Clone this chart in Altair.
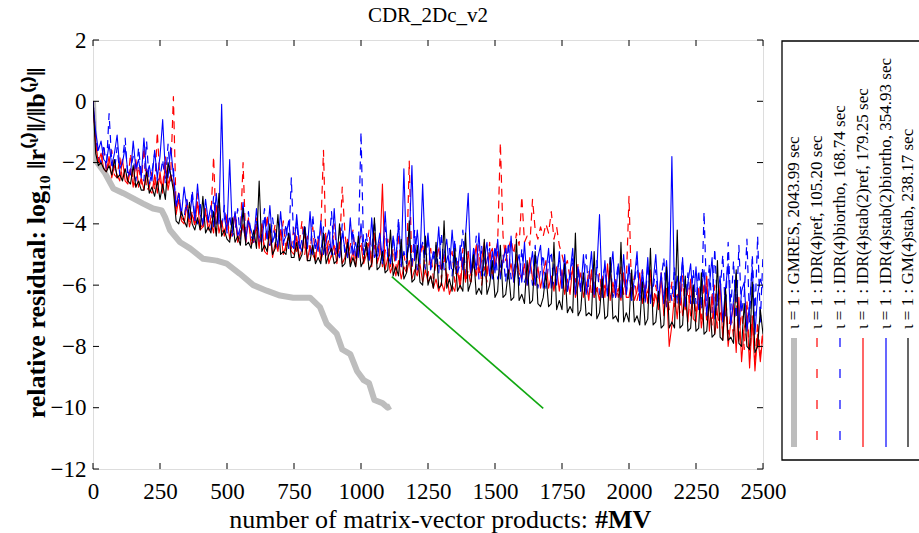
import altair as alt
import pandas as pd

# ---------------- data ----------------
MV = list(range(0, 2501, 10))

gm4_stab = [
    0.0, -1.7, -2.1, -2.0, -2.2, -2.3, -2.1, -2.4, -1.9, -2.5, -2.4, -2.6, -2.2, -2.6, -2.7, -2.1, -2.8, -2.6, -2.9, -2.9, -2.3, -3.0, -2.8, -3.1, -2.6,
    -3.2, -2.7, -3.2, -2.0, -2.4, -2.9, -3.9, -4.0, -3.6, -3.9, -4.1, -3.3, -4.0, -4.2, -3.8, -4.2, -3.1, -4.3, -4.1, -4.3, -3.6, -4.4, -3.0, -4.4, -4.2,
    -4.5, -4.6, -3.8, -4.6, -4.4, -4.7, -3.5, -4.7, -4.6, -4.8, -4.2, -4.8, -2.6, -4.9, -4.7, -4.9, -4.0, -5.0, -4.8, -3.7, -5.0, -4.9, -5.0, -4.3, -5.1,
    -5.1, -4.6, -5.2, -5.0, -4.1, -5.2, -5.2, -4.7, -5.3, -5.1, -5.3, -4.3, -5.3, -5.0, -4.8, -5.3, -5.2, -4.0, -5.4, -5.3, -4.6, -5.4, -5.1, -5.4, -4.4,
    -5.4, -5.2, -4.6, -5.5, -5.3, -3.8, -5.5, -5.4, -4.9, -5.6, -5.5, -4.2, -5.7, -5.4, -5.7, -4.5, -5.8, -5.6, -3.9, -5.9, -5.8, -4.7, -5.9, -6.0, -4.4,
    -6.0, -5.7, -6.1, -4.6, -6.1, -6.0, -3.9, -6.1, -5.8, -6.2, -4.8, -6.2, -6.0, -6.2, -4.3, -6.2, -5.9, -5.0, -6.3, -6.1, -6.3, -4.5, -6.3, -6.0, -5.2,
    -6.4, -6.2, -4.7, -6.4, -6.3, -5.5, -6.5, -6.4, -4.5, -6.5, -6.3, -6.6, -5.2, -6.6, -6.5, -4.9, -6.6, -6.7, -6.4, -5.6, -6.7, -6.6, -4.6, -6.8, -6.5,
    -6.8, -5.3, -6.9, -6.7, -6.9, -4.3, -7.0, -6.8, -5.6, -7.0, -6.9, -7.0, -4.9, -7.1, -6.9, -5.8, -7.1, -7.0, -5.1, -7.1, -7.0, -7.2, -4.6, -7.2, -6.9,
    -7.2, -5.5, -7.2, -7.0, -7.3, -5.9, -7.3, -7.1, -4.8, -7.3, -7.2, -6.2, -7.4, -7.3, -5.4, -7.4, -7.2, -7.4, -4.2, -7.4, -7.3, -5.7, -7.5, -7.4, -6.0,
    -7.5, -7.4, -5.6, -7.6, -7.5, -6.4, -7.7, -7.6, -5.2, -7.7, -7.8, -6.1, -7.8, -7.7, -7.9, -5.5, -7.9, -8.0, -6.6, -8.0, -8.1, -5.9, -8.2, -8.0, -6.8,
    -7.6,
]

idr_stab_biortho = [
    0.0, -1.0, -1.6, -1.3, -1.9, -2.0, -1.4, -2.1, -1.7, -1.1, -2.2, -2.0, -1.5, -2.3, -2.4, -1.3, -2.2, -1.9, -2.5, -1.2, -2.4, -2.1, -2.6, -1.6, -2.5,
    -1.8, -0.6, -2.3, -2.5, -1.5, -2.4, -3.4, -3.0, -3.7, -2.8, -3.5, -3.8, -3.1, -3.9, -2.7, -3.7, -4.0, -3.2, -3.9, -3.4, -4.1, -3.0, -4.0, -0.1, -3.8,
    -4.2, -1.9, -4.3, -3.6, -4.4, -4.1, -3.3, -4.5, -3.9, -4.2, -4.5, -3.5, -4.4, -4.6, -3.8, -4.5, -3.4, -4.6, -4.3, -4.7, -3.6, -4.6, -4.4, -3.9, -4.7,
    -4.8, -3.7, -4.7, -4.9, -4.1, -4.8, -3.6, -5.0, -4.5, -4.9, -3.9, -5.0, -4.6, -4.2, -5.0, -3.5, -4.9, -5.1, -4.3, -4.8, -5.1, -3.8, -5.0, -4.6, -5.1,
    -4.0, -5.0, -4.7, -5.2, -3.8, -5.1, -4.9, -4.3, -5.2, -3.6, -5.0, -5.3, -4.4, -5.2, -4.0, -5.3, -2.2, -5.1, -4.6, -2.1, -5.2, -4.2, -5.3, -2.7, -5.0,
    -4.3, -5.4, -4.9, -5.3, -4.1, -5.5, -5.0, -4.5, -5.5, -4.2, -5.4, -5.6, -4.7, -5.5, -4.4, -3.0, -5.6, -4.8, -5.5, -4.3, -5.7, -5.2, -4.6, -5.7, -4.9,
    -5.6, -4.5, -5.8, -5.2, -4.8, -5.8, -4.4, -5.9, -5.4, -5.0, -5.9, -4.6, -6.0, -5.5, -4.9, -6.0, -5.1, -4.7, -6.1, -5.6, -4.8, -6.1, -5.3, -6.0, -4.9,
    -6.1, -5.0, -6.2, -5.6, -4.8, -6.3, -5.4, -6.2, -5.0, -6.3, -5.8, -4.9, -6.3, -5.5, -3.7, -6.4, -5.2, -6.3, -5.7, -4.9, -6.4, -5.3, -6.4, -5.0, -6.3,
    -5.3, -6.4, -5.8, -4.9, -6.5, -5.5, -6.4, -5.1, -6.6, -5.9, -5.0, -6.5, -5.6, -6.6, -5.2, -6.5, -1.8, -6.4, -5.7, -6.6, -5.1, -6.7, -5.9, -5.3, -6.6,
    -5.4, -6.8, -6.2, -5.5, -7.0, -6.0, -5.1, -7.1, -6.4, -5.7, -7.2, -6.1, -5.3, -7.3, -6.5, -5.6, -7.4, -6.2, -5.9, -7.5, -6.6, -5.4, -7.6, -6.3, -5.8,
    -6.1,
]

idr_biortho = [
    0.0, -1.2, -1.8, -2.0, -1.4, -2.2, -0.4, -2.0, -2.3, -1.5, -2.4, -1.9, -1.2, -2.5, -2.2, -1.8, -2.6, -1.5, -2.4, -2.6, -1.3, -2.7, -2.3, -1.7, -2.6,
    -2.5, -1.9, -2.7, -1.4, -2.6, -2.2, -3.5, -3.0, -3.7, -3.8, -3.2, -3.9, -2.9, -3.8, -4.0, -3.3, -4.1, -3.6, -3.9, -4.2, -3.1, -4.1, -3.7, -4.2, -3.4,
    -4.3, -3.7, -4.4, -4.2, -3.5, -4.5, -4.0, -4.6, -3.6, -4.4, -4.6, -3.9, -4.7, -4.3, -3.5, -4.6, -4.7, -3.8, -4.5, -4.8, -4.1, -4.7, -4.0, -4.8, -2.5,
    -4.8, -3.9, -4.9, -4.5, -4.0, -4.9, -5.0, -3.7, -4.8, -4.4, -5.0, -4.1, -5.1, -4.8, -3.6, -5.0, -4.6, -5.1, -4.0, -5.0, -4.7, -5.2, -4.2, -5.1, -4.9,
    -1.0, -5.0, -4.3, -5.2, -4.8, -3.9, -5.2, -4.6, -5.3, -4.1, -5.1, -5.3, -4.4, -5.2, -3.8, -5.4, -4.9, -5.3, -4.5, -5.4, -4.2, -5.5, -5.0, -4.6, -5.5,
    -4.4, -5.5, -5.1, -4.7, -5.6, -4.3, -5.5, -5.2, -4.8, -5.7, -4.5, -5.6, -5.3, -4.2, -5.7, -4.9, -5.6, -5.4, -4.4, -5.8, -4.7, -5.7, -5.2, -4.8, -5.8,
    -4.7, -5.8, -5.4, -5.0, -5.9, -4.6, -5.8, -5.5, -5.1, -6.0, -4.8, -5.9, -5.6, -5.2, -6.0, -4.7, -6.1, -5.5, -5.0, -6.1, -5.3, -4.9, -6.1, -5.6, -5.2,
    -6.1, -5.3, -6.2, -5.8, -5.1, -6.3, -5.5, -6.2, -5.9, -5.0, -6.3, -5.6, -6.4, -5.2, -6.3, -5.8, -5.4, -6.4, -5.1, -6.4, -5.9, -5.3, -6.4, -5.7, -6.3,
    -5.4, -6.5, -6.0, -5.2, -6.5, -5.7, -6.6, -5.3, -6.4, -6.1, -5.5, -6.6, -5.8, -5.1, -6.7, -5.9, -6.5, -5.4, -6.6, -6.0, -5.2, -6.7, -5.6, -6.6, -5.5,
    -6.6, -5.5, -6.8, -3.6, -6.5, -5.3, -6.9, -4.8, -6.7, -6.2, -5.0, -7.0, -4.6, -6.8, -5.2, -7.1, -4.7, -6.9, -6.3, -4.5, -7.2, -5.0, -7.0, -4.4, -7.2,
    -5.0,
]

idr_ref = [
    0.0, -1.3, -1.9, -2.1, -1.5, -2.3, -2.0, -1.6, -2.4, -2.5, -1.8, -2.6, -2.2, -2.7, -1.7, -2.6, -2.8, -2.1, -2.7, -1.5, -2.9, -2.8, -2.3, -2.9, -1.0,
    -2.6, -2.8, -1.8, -2.7, -2.4, 0.15, -3.5, -3.0, -3.8, -3.9, -3.2, -4.0, -3.6, -4.1, -3.0, -4.0, -4.2, -3.5, -4.1, -3.8, -1.8, -4.3, -3.4, -4.2, -4.3,
    -3.7, -4.4, -4.1, -3.6, -4.5, -4.3, -2.0, -4.6, -3.9, -4.5, -4.6, -3.8, -4.7, -4.2, -4.8, -3.7, -4.7, -4.5, -4.0, -4.8, -4.6, -3.9, -4.9, -4.3, -4.8,
    -4.1, -4.9, -4.6, -3.9, -5.0, -4.4, -4.9, -4.1, -5.1, -4.7, -4.2, -1.6, -5.0, -4.5, -5.1, -4.0, -5.0, -4.8, -2.8, -4.3, -5.1, -4.7, -4.2, -5.2, -4.6,
    -4.4, -5.2, -4.9, -4.2, -5.3, -4.7, -5.2, -4.4, -5.4, -4.9, -4.5, -5.4, -4.8, -5.5, -4.3, -5.4, -5.0, -5.5, -1.95, -5.5, -4.7, -5.6, -5.1, -4.6, -5.6,
    -5.7, -4.8, -5.8, -5.3, -4.7, -5.8, -5.0, -5.9, -5.4, -4.9, -5.9, -5.2, -6.0, -4.8, -5.9, -5.5, -6.0, -5.0, -5.8, -4.7, -6.0, -5.4, -5.9, -4.6, -5.8,
    -5.0, -4.6, -1.35, -4.4, -5.2, -4.8, -4.5, -5.0, -4.3, -4.7, -3.1, -4.6, -4.4, -4.7, -3.2, -4.2, -4.5, -4.1, -4.4, -4.0, -4.3, -3.6, -4.5, -4.1, -4.7,
    -5.0, -5.4, -5.2, -5.8, -5.5, -5.9, -5.3, -6.1, -5.7, -6.2, -5.5, -6.3, -5.9, -6.2, -5.6, -6.4, -6.0, -6.3, -5.5, -6.4, -5.8, -6.4, -5.4, -6.3, -5.9,
    -3.1, -6.4, -5.7, -6.5, -6.1, -5.5, -6.5, -6.2, -5.8, -6.6, -6.0, -6.7, -5.6, -6.6, -6.2, -6.8, -5.9, -6.7, -6.3, -6.9, -5.7, -6.9, -6.1, -7.0, -6.0,
    -7.0, -6.3, -7.1, -5.9, -7.2, -6.6, -7.3, -6.0, -7.4, -6.8, -7.5, -6.2, -7.6, -6.9, -7.7, -6.4, -7.9, -6.7, -8.1, -6.5, -8.4, -7.0, -8.6, -7.2, -8.3,
    -7.4,
]

idr_stab_ref = [
    0.0, -1.4, -2.0, -1.7, -2.2, -2.3, -1.8, -2.5, -2.1, -2.4, -2.6, -1.9, -2.6, -2.7, -2.2, -2.8, -1.9, -2.8, -2.5, -2.9, -2.2, -2.9, -3.0, -2.4, -3.0,
    -2.3, -3.0, -2.0, -2.9, -2.4, -2.7, -3.7, -3.2, -3.9, -4.0, -3.4, -4.1, -3.7, -4.0, -3.3, -4.2, -4.1, -3.6, -4.2, -3.9, -4.3, -3.4, -4.3, -3.9, -4.4,
    -3.8, -4.5, -4.3, -3.7, -4.6, -4.4, -4.0, -4.6, -3.8, -4.7, -4.5, -4.1, -4.8, -4.0, -4.9, -5.0, -4.2, -5.1, -4.6, -4.9, -4.2, -5.0, -4.7, -4.4, -4.9,
    -5.0, -4.4, -5.1, -4.8, -4.3, -5.2, -4.7, -5.0, -5.2, -4.5, -5.2, -4.9, -4.4, -5.3, -5.0, -4.7, -5.3, -4.6, -5.3, -5.1, -4.5, -5.3, -4.9, -5.4, -4.8,
    -4.7, -5.3, -5.0, -4.6, -5.4, -4.3, -5.3, -5.0, -2.7, -5.5, -5.1, -5.6, -5.3, -5.7, -5.2, -5.8, -5.4, -5.6, -5.2, -5.8, -5.5, -5.7, -5.3, -5.9, -5.5,
    -5.9, -5.7, -6.1, -5.8, -6.2, -5.9, -6.2, -5.6, -6.3, -6.0, -6.2, -5.5, -6.1, -5.1, -5.9, -4.9, -5.7, -5.3, -4.7, -5.6, -5.2, -4.6, -5.7, -5.0, -4.8,
    -5.4, -4.9, -5.7, -5.2, -4.7, -5.7, -5.3, -5.9, -5.0, -5.6, -5.8, -5.3, -6.0, -5.1, -5.8, -6.0, -5.4, -6.1, -5.6, -5.2, -6.1, -5.7, -6.2, -5.4, -6.2,
    -5.5, -6.3, -5.8, -6.3, -5.4, -6.4, -6.0, -5.6, -6.4, -5.9, -6.5, -5.5, -6.4, -6.1, -6.5, -5.7, -6.4, -5.3, -6.5, -5.9, -6.4, -6.1, -6.5, -5.6, -6.4,
    -6.4, -5.8, -6.5, -6.2, -5.6, -6.6, -6.0, -6.6, -5.5, -6.7, -6.3, -6.8, -5.7, -7.0, -6.1, -8.0, -7.3, -6.3, -7.1, -5.9, -7.0, -6.4, -7.2, -5.8, -7.1,
    -7.2, -6.1, -7.4, -6.7, -5.7, -7.5, -6.3, -7.6, -7.0, -6.0, -7.8, -6.5, -8.0, -7.2, -6.6, -8.2, -6.4, -8.5, -7.4, -6.9, -8.7, -7.1, -8.8, -7.6, -8.5,
    -7.6,
]

gmres_mv = [0, 4, 8, 20, 45, 76, 113, 150, 187, 224, 256, 269, 287, 325, 362, 411, 461, 499, 548, 598, 648,
            698, 747, 810, 847, 872, 909, 930, 960, 985, 1010, 1030, 1050, 1080, 1100, 1110]
gmres_res = [0.0, -1.0, -1.9, -2.05, -2.35, -2.85, -3.0, -3.17, -3.34, -3.5, -3.56, -3.78, -4.2, -4.6, -4.8,
             -5.14, -5.2, -5.3, -5.63, -6.0, -6.18, -6.34, -6.41, -6.41, -6.72, -7.26, -7.58, -8.1, -8.25,
             -8.8, -9.1, -9.2, -9.75, -9.85, -10.0, -9.95]

slope_mv = [1115, 1680]
slope_res = [-5.72, -10.02]

x_ticks = [0, 250, 500, 750, 1000, 1250, 1500, 1750, 2000, 2250, 2500]
y_ticks = [2, 0, -2, -4, -6, -8, -10, -12]

legend_labels = [
    "ι = 1 : GMRES, 2043.99 sec",
    "ι = 1 : IDR(4)ref, 105.20 sec",
    "ι = 1 : IDR(4)biortho, 168.74 sec",
    "ι = 1 : IDR(4)stab(2)ref, 179.25 sec",
    "ι = 1 : IDR(4)stab(2)biortho, 354.93 sec",
    "ι = 1 : GM(4)stab, 238.17 sec",
]

title_text = "CDR_2Dc_v2"
xtitle_main = "number of matrix-vector products:"
xtitle_bold = "#MV"
ytitle = "relative residual: log\u2081\u2080 \u2016r\u207d\u1da5\u207e\u2016/\u2016b\u207d\u1da5\u207e\u2016"

for name, arr in [("gm4_stab", gm4_stab), ("idr_stab_biortho", idr_stab_biortho),
                  ("idr_biortho", idr_biortho), ("idr_ref", idr_ref), ("idr_stab_ref", idr_stab_ref)]:
    assert len(arr) == len(MV), f"{name}: {len(arr)}"

# ---------------- layout ----------------
W, H = 670, 429
SERIF = "Liberation Serif"

xscale = alt.Scale(domain=[0, 2500], nice=False, zero=False)
yscale = alt.Scale(domain=[-12, 2], nice=False, zero=False)
xaxis = alt.Axis(values=x_ticks, title=None, ticks=False, tickSize=0, domain=False, grid=False,
                 labelFont=SERIF, labelFontSize=23, labelColor="black", labelPadding=11,
                 labelFlush=False, labelOverlap=False, format="d")
yaxis = alt.Axis(values=y_ticks, title=None, ticks=False, tickSize=0, domain=False, grid=False,
                 labelFont=SERIF, labelFontSize=23, labelColor="black", labelPadding=7,
                 labelOverlap=False, format="d")
X = alt.X("mv:Q", scale=xscale, axis=xaxis)
Y = alt.Y("res:Q", scale=yscale, axis=yaxis)


def df(xs, ys):
    return pd.DataFrame({"mv": xs, "res": ys})


def line(xs, ys, color, width, dash=None):
    kw = dict(color=color, strokeWidth=width, clip=True, strokeJoin="round")
    if dash:
        kw["strokeDash"] = dash
    return alt.Chart(df(xs, ys)).mark_line(**kw).encode(x=X, y=Y)


RED, BLUE, BLACK, GRAY, GREEN = "#ff0000", "#0000ff", "#000000", "#bdbdbd", "#12a812"
DASH = [8, 6]

layers = [
    line(gmres_mv, gmres_res, GRAY, 6),
    line(MV, idr_ref, RED, 1.2, DASH),
    line(MV, idr_biortho, BLUE, 1.2, DASH),
    line(MV, idr_stab_ref, RED, 1.1),
    line(MV, idr_stab_biortho, BLUE, 1.1),
    line(MV, gm4_stab, BLACK, 1.1),
    line(slope_mv, slope_res, GREEN, 1.6),
]

# inward ticks on all four sides
xt_df = pd.DataFrame({"mv": x_ticks})
yt_df = pd.DataFrame({"res": y_ticks})
layers += [
    alt.Chart(xt_df).mark_rule(color="black", strokeWidth=1).encode(x=X, y=alt.value(H), y2=alt.value(H - 6)),
    alt.Chart(xt_df).mark_rule(color="black", strokeWidth=1).encode(x=X, y=alt.value(0), y2=alt.value(6)),
    alt.Chart(yt_df).mark_rule(color="black", strokeWidth=1).encode(y=Y, x=alt.value(0), x2=alt.value(6)),
    alt.Chart(yt_df).mark_rule(color="black", strokeWidth=1).encode(y=Y, x=alt.value(W), x2=alt.value(W - 6)),
]

# titles
one = pd.DataFrame({"t": [0]})
layers += [
    alt.Chart(one).mark_text(text=title_text, font=SERIF, fontSize=21, color="black",
                             align="center", baseline="middle").encode(x=alt.value(W / 2), y=alt.value(-24)),
    alt.Chart(one).mark_text(text=xtitle_main, font=SERIF, fontSize=26, color="black",
                             align="right", baseline="alphabetic").encode(x=alt.value(495), y=alt.value(488)),
    alt.Chart(one).mark_text(text=xtitle_bold, font=SERIF, fontSize=26, fontWeight="bold", color="black",
                             align="left", baseline="alphabetic").encode(x=alt.value(502), y=alt.value(488)),
    alt.Chart(one).mark_text(text=ytitle, font=SERIF, fontSize=26, fontWeight="bold", color="black",
                             angle=270, align="center", baseline="alphabetic").encode(x=alt.value(-48), y=alt.value(203)),
]

# legend (rotated, outside the plot area)
leg_x = [701, 724, 747, 770, 793, 815]
leg_colors = [GRAY, RED, BLUE, RED, BLUE, BLACK]
leg_widths = [6, 1.2, 1.2, 1.2, 1.2, 1.2]
leg_dash = [None, [9, 22], [9, 22], None, None, None]
layers.append(
    alt.Chart(one).mark_rect(fill="white", stroke="black", strokeWidth=1.3).encode(
        x=alt.value(689), x2=alt.value(870), y=alt.value(1), y2=alt.value(420))
)
for lx, lab, c, w, d in zip(leg_x, legend_labels, leg_colors, leg_widths, leg_dash):
    kw = dict(color=c, strokeWidth=w)
    if d:
        kw["strokeDash"] = d
    layers.append(alt.Chart(one).mark_rule(**kw).encode(x=alt.value(lx), y=alt.value(298), y2=alt.value(407)))
    layers.append(alt.Chart(one).mark_text(text=lab, font=SERIF, fontSize=17, color="black", angle=270,
                                           align="left", baseline="middle").encode(x=alt.value(lx), y=alt.value(289)))

chart = alt.layer(*layers).properties(
    width=W, height=H,
    autosize=alt.AutoSizeParams(type="none"),
    padding={"left": 93, "top": 40, "right": 156, "bottom": 64},
).configure_view(stroke="black", strokeWidth=1.2).configure(background="white")

chart.save("out.html", embed_options={"renderer": "svg", "actions": False})
